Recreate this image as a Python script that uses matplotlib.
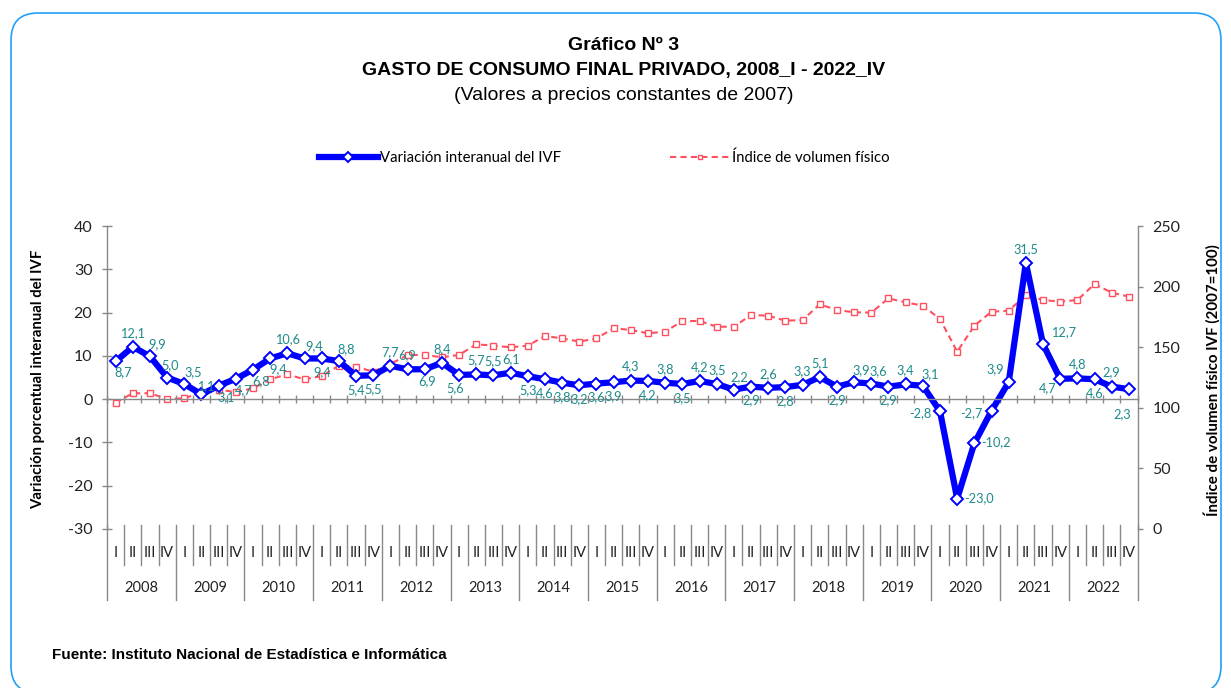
import numpy as np
import matplotlib.pyplot as plt
from matplotlib.lines import Line2D
from matplotlib.patches import FancyBboxPatch

plt.rcParams['axes.unicode_minus'] = False

# datos trimestrales 2008_I - 2022_IV
years = [str(y) for y in range(2008, 2023)]
quarters = ["I", "II", "III", "IV"]

var_ivf = [8.7, 12.1, 9.9, 5.0, 3.5, 1.1, 3.1, 4.7, 6.8, 9.4,
           10.6, 9.4, 9.4, 8.8, 5.4, 5.5, 7.7, 6.9, 6.9, 8.4,
           5.6, 5.7, 5.5, 6.1, 5.3, 4.6, 3.8, 3.2, 3.6, 3.9,
           4.3, 4.2, 3.8, 3.5, 4.2, 3.5, 2.2, 2.9, 2.6, 2.8,
           3.3, 5.1, 2.9, 3.9, 3.6, 2.9, 3.4, 3.1, -2.8, -23.0,
           -10.2, -2.7, 3.9, 31.5, 12.7, 4.7, 4.8, 4.6, 2.9, 2.3]

indice_ivf = [104.2, 112.0, 112.0, 107.3, 107.8, 112.8, 114.9, 113.0, 116.0, 123.5,
              127.6, 123.5, 126.2, 134.7, 133.9, 129.8, 136.1, 143.6, 143.6, 141.7,
              143.6, 152.4, 151.3, 149.9, 151.3, 159.2, 157.3, 154.6, 157.3, 165.6,
              164.2, 161.5, 162.8, 171.6, 171.6, 166.9, 166.9, 176.6, 176.0, 171.9,
              172.4, 185.4, 180.7, 178.8, 178.5, 190.3, 187.0, 184.3, 173.3, 146.3,
              167.7, 179.3, 180.1, 193.1, 188.9, 187.6, 188.9, 202.1, 195.0, 191.7]

# donde va cada etiqueta respecto al punto
label_pos = ['br', 'a', 'ar', 'ar5', 'ar4', 'a2', 'br', 'br', 'br', 'br',
             'a', 'ar2', 'b', 'ar', 'b', 'b', 'a', 'a', 'b3', 'a',
             'b4', 'a', 'a', 'a', 'b', 'b', 'b', 'b', 'b', 'b',
             'a', 'b', 'a', 'b', 'a', 'a', 'ar3', 'b', 'a', 'b',
             'a', 'a', 'b', 'ar', 'ar', 'b', 'a', 'ar', 'l', 'r',
             'r', 'l', 'al', 'a', 'r2', 'bl', 'a', 'b', 'a', 'b2']
offsets_px = {'a': (0, -14), 'a2': (4, -8), 'b': (0, 14), 'ar': (7, -12),
              'ar2': (10, -12), 'ar3': (5, -12), 'ar4': (9, -12), 'ar5': (3, -12),
              'br': (8, 11), 'b3': (2, 12), 'b4': (-4, 13), 'r': (22, -1),
              'l': (-20, 2), 'al': (-13, -13), 'bl': (-13, 9), 'r2': (20, -12),
              'b2': (-7, 25)}

W, H = 1231, 688
gris = '#898989'
teal = '#1E8A8A'
azul = '#0000FF'
rojo = '#FF5060'
calibri = ['Lato', 'DejaVu Sans']
arial = ['Liberation Sans', 'DejaVu Sans']

fig = plt.figure(figsize=(W / 100, H / 100), dpi=100)
ax_l, ax_r, ax_t, ax_b = 107, 1137.5, 226, 529
ax = fig.add_axes([ax_l / W, 1 - ax_b / H, (ax_r - ax_l) / W, (ax_b - ax_t) / H])
ax2 = ax.twinx()
ax.set_zorder(ax2.get_zorder() + 1)
ax.patch.set_visible(False)

x = np.arange(len(var_ivf))

ax2.plot(x, indice_ivf, color=rojo, lw=1.5, ls=(0, (3, 2)), marker='s', ms=4.5,
         mfc='white', mec=rojo, mew=1.0, label='Índice de volumen físico')
ax.plot(x, var_ivf, color=azul, lw=4.5, marker='D', ms=6.5, mfc='white', mec=azul,
        mew=1.4, label='Variación interanual del IVF', solid_joinstyle='round')

for i, v in enumerate(var_ivf):
    dx, dy = offsets_px[label_pos[i]]
    ax.annotate(f"{v:.1f}".replace('.', ','), (i, v), xytext=(dx * 0.72, -dy * 0.72),
                textcoords='offset points', ha='center', va='center',
                color=teal, fontsize=9.2, family=calibri, zorder=5)

ax.set_xlim(-0.5, len(var_ivf) - 0.5)
ax.set_ylim(-30, 40)
ax2.set_ylim(0, 250)
ax.set_yticks(range(-30, 41, 10))
ax2.set_yticks(range(0, 251, 50))

# eje horizontal en el cero
ax.spines['bottom'].set_position(('data', 0))
ax.set_xticks(np.arange(-0.5, len(var_ivf), 1))
ax.set_xticklabels([])
ax.tick_params(axis='x', direction='inout', length=6, width=1, color=gris)
for a in (ax, ax2):
    a.spines['top'].set_visible(False)
    for s in a.spines.values():
        s.set_color(gris)
        s.set_linewidth(1)
ax2.spines['bottom'].set_visible(False)
ax2.spines['left'].set_visible(False)
ax.spines['right'].set_visible(False)

ax.tick_params(axis='y', direction='inout', length=7, width=1, color=gris, pad=7,
               labelsize=11.5, labelcolor='#222222')
ax2.tick_params(axis='y', direction='out', length=3.6, width=1, color=gris, pad=7,
                labelsize=11.5, labelcolor='#222222')
for lab in ax.get_yticklabels() + ax2.get_yticklabels():
    lab.set_family(calibri)

# eje de categorías (trimestres / años)
tr = ax.get_xaxis_transform()
def fy(py):
    return (ax_b - py) / (ax_b - ax_t)

for k in range(len(var_ivf) + 1):
    xb = k - 0.5
    y_end = 600 if k % 4 == 0 else 565
    ax.add_line(Line2D([xb, xb], [fy(525), fy(y_end)], transform=tr, color=gris,
                       lw=1, clip_on=False))
for i in range(len(var_ivf)):
    ax.text(i, fy(553), quarters[i % 4], transform=tr, ha='center', va='center',
            fontsize=10.5, family=calibri, color='#222222', clip_on=False)
for j, yr in enumerate(years):
    ax.text(j * 4 + 1.5, fy(588), yr, transform=tr, ha='center', va='center',
            fontsize=10.5, family=calibri, color='#222222', clip_on=False)

# títulos
fig.text(624 / W, 1 - 46 / H, 'Gráfico Nº 3', ha='center', va='center',
         fontsize=14, fontweight='bold', family=arial)
fig.text(624 / W, 1 - 70 / H, 'GASTO DE CONSUMO FINAL PRIVADO, 2008_I - 2022_IV',
         ha='center', va='center', fontsize=14, fontweight='bold', family=arial)
fig.text(624 / W, 1 - 95 / H, '(Valores a precios constantes de 2007)', ha='center',
         va='center', fontsize=14, family=arial)

fig.text(38 / W, 1 - 379 / H, 'Variación porcentual interanual del IVF', rotation=90,
         ha='center', va='center', fontsize=10.7, fontweight='bold', family=calibri)
fig.text(1212 / W, 1 - 380 / H, 'Índice de volumen físico IVF (2007=100)', rotation=90,
         ha='center', va='center', fontsize=10.9, fontweight='bold', family=calibri)

fig.text(52 / W, 1 - 655 / H, 'Fuente: Instituto Nacional de Estadística e Informática',
         ha='left', va='center', fontsize=11, fontweight='bold', family=arial)

# leyenda
h1, l1 = ax.get_legend_handles_labels()
h2, l2 = ax2.get_legend_handles_labels()
leg = fig.legend(h1 + h2, l1 + l2, loc='center', bbox_to_anchor=(604 / W, 1 - 158 / H),
                 ncol=2, frameon=False, handlelength=4.0, handletextpad=0.15,
                 columnspacing=7.3, numpoints=1, markerscale=0.75,
                 prop={'family': calibri, 'size': 10.7})

# marco redondeado
marco = FancyBboxPatch((11, -5), 1210, 680, boxstyle='round,pad=0,rounding_size=27',
                       transform=None, fill=False, ec='#22A0F5', lw=1.2)
fig.patches.append(marco)

fig.savefig('out.png', dpi=100)
